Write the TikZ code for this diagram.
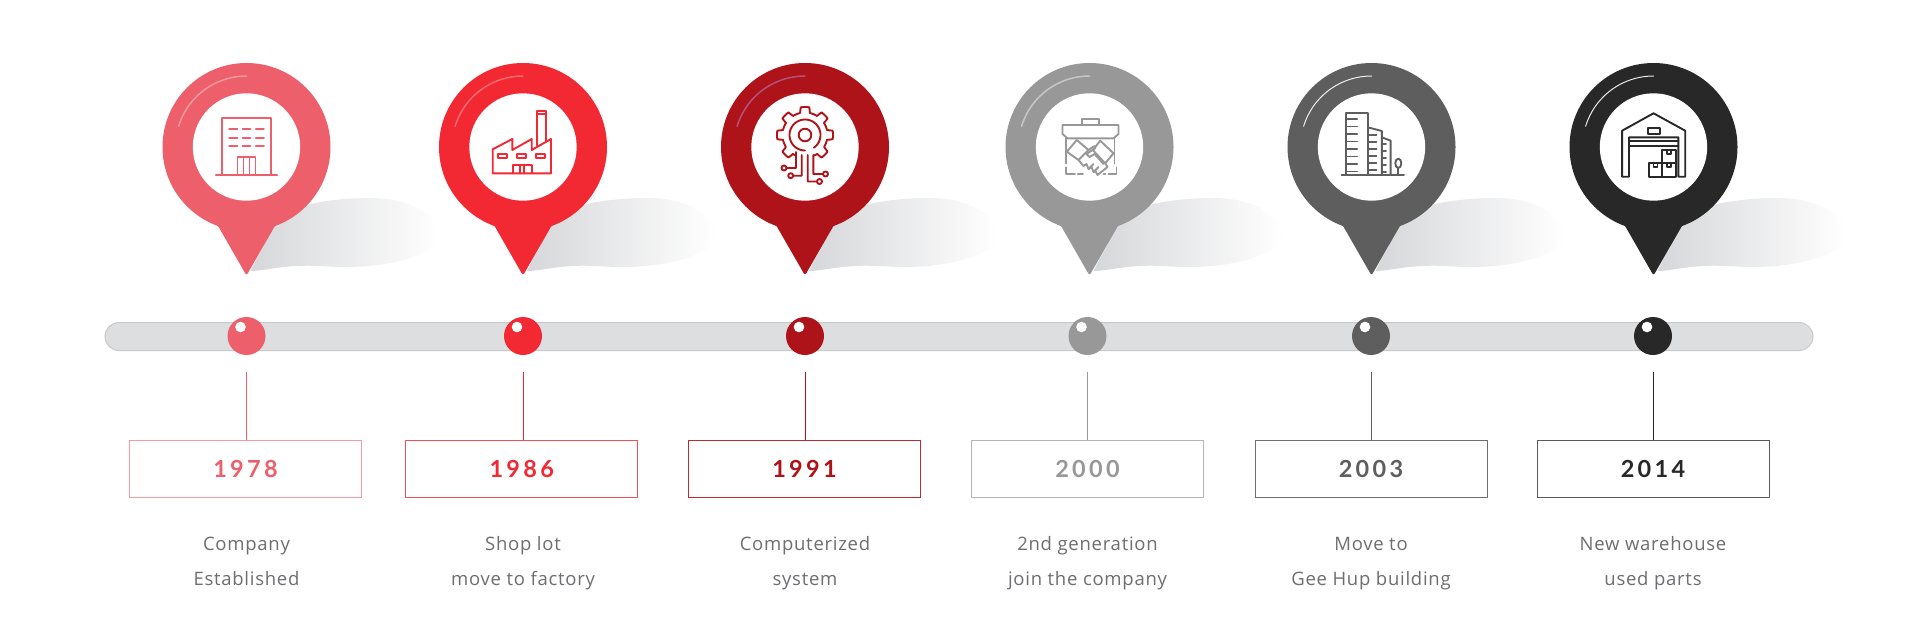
\documentclass[tikz,border=0pt]{standalone}
\usepackage{fontspec}
\setmainfont{Open Sans}
\newfontfamily\yearfont[LetterSpace=14]{Lato}
\newfontfamily\descfont[LetterSpace=4]{Open Sans}
\usetikzlibrary{calc}
\definecolor{cA}{HTML}{EC5F6B}
\definecolor{cB}{HTML}{F22833}
\definecolor{cC}{HTML}{AE1319}
\definecolor{cD}{HTML}{989898}
\definecolor{cE}{HTML}{5E5E5E}
\definecolor{cF}{HTML}{282828}
\definecolor{bA}{HTML}{F49BA3}
\definecolor{bB}{HTML}{F0505A}
\definecolor{bC}{HTML}{BE2A32}
\definecolor{bD}{HTML}{B4B4B4}
\definecolor{bE}{HTML}{6E6E6E}
\definecolor{bF}{HTML}{5A5A5A}
\definecolor{hlC}{HTML}{B4517A}
\definecolor{barfill}{HTML}{DDDEE0}
\definecolor{barline}{HTML}{C8C9CB}
\definecolor{desc}{HTML}{6D6E71}
\definecolor{shadowgray}{HTML}{D6D7DA}
\tikzset{
  x=1pt,y=-1pt,
  iconline/.style={line width=1.9pt,line cap=round,line join=round},
  barbox/.style={draw=barline,fill=barfill,line width=1pt,rounded corners=14pt,minimum width=1708pt,minimum height=28pt,inner sep=0pt},
  ball/.style={circle,inner sep=0pt,minimum size=38pt},
  yearbox/.style={rectangle,fill=white,line width=1pt,minimum width=232pt,minimum height=57pt,inner sep=0pt,font=\yearfont\bfseries\fontsize{23.5}{26}\selectfont},
  desctext/.style={align=center,text=desc,font=\descfont\fontsize{18.5}{34.6}\selectfont,inner sep=0pt},
}
\newcommand\pinshape[6]{%
  \begin{scope}[shift={(#1,147)}]
    \shade[left color=shadowgray,right color=white,shading angle=90]
      (4,124) -- (10,112) -- (17,100) -- (20,90) -- (22,80) -- (40,65)
      .. controls (60,55) and (95,51) .. (125,51)
      .. controls (165,51) and (193,70) .. (193,88)
      .. controls (193,105) and (150,120) .. (100,120)
      .. controls (80,120) and (70,118) .. (50,119)
      .. controls (30,120) and (15,124) .. (4,124) -- cycle;
    \fill[#2] (0,0) circle[radius=84];
    \fill[#2,rounded corners=2.5pt] (-31,76) -- (-29,78) -- (0,128.5) -- (29,78) -- (31,76) -- cycle;
    \fill[white] (0,0) circle[radius=53.7];
    \draw[draw=#3,draw opacity=#4,line width=#5pt,line cap=round]
      plot[smooth,samples=25,domain=197:270] ({71*cos(\x)},{71*sin(\x)});
    \begin{scope}[draw=#2,iconline]
      #6
    \end{scope}
  \end{scope}%
}
\newcommand\iconA{%
  \draw (-24.3,28) -- (-24.3,-29) -- (24.7,-29) -- (24.7,28);
  \draw (-30.7,28) -- (30.7,28);
  \foreach \r in {-17.7,-9.3,-1}{
    \draw (-17.3,\r) -- (-9,\r) (-4,\r) -- (4,\r) (9.3,\r) -- (17.3,\r);}
  \draw (-9,28) -- (-9,10) -- (9,10) -- (9,28) (-3,10) -- (-3,28) (3,10) -- (3,28);
}
\newcommand\iconB{%
  \draw (-30.3,26.3) -- (-30.3,2.3) -- (-10.7,-8) -- (-10.7,3) -- (8.7,-8) -- (8.7,3) -- (28,-8) -- (28,26.3) -- cycle;
  \draw (14.3,-1.5) -- (14.3,-36) -- (22.7,-36) -- (22.7,-5) (14.3,-33) -- (22.7,-33);
  \draw (-25.3,7) rectangle (-16.3,11.3) (-6.3,7) rectangle (2.7,11.3) (13,7) rectangle (22,11.3);
  \draw (-10.3,26.3) -- (-10.3,18.3) -- (8.7,18.3) -- (8.7,26.3) (-3,18.3) -- (-3,26.3) (1,18.3) -- (1,26.3);
}
\newcommand\iconC{%
  \begin{scope}[shift={(0,-12)}]
    \draw plot[samples=160,domain=115:425] ({(22.5+5.5*min(1,max(0,2.2*cos(8*\x)+0.3)))*cos(\x)},{(22.5+5.5*min(1,max(0,2.2*cos(8*\x)+0.3)))*sin(\x)});
    \draw (0,0) circle[radius=6.3];
    \draw plot[samples=50,domain=90:415] ({15.5*cos(\x)},{15.5*sin(\x)});
  \end{scope}
  \draw (-9,5) -- (-9,21) -- (-18.3,21) (-21,21) circle[radius=2.5];
  \draw (-3.3,8) -- (-3.3,28.7) -- (-12,28.7) (-14.3,28.7) circle[radius=2.5];
  \draw (2.7,8) -- (2.7,34.5) -- (12,34.5) (14.5,34.5) circle[radius=2.5];
  \draw (8.3,8) -- (8.3,27) -- (18,27) (20.5,27) circle[radius=2.5];
}
\newcommand\iconD{%
  \draw (-7.7,-22) -- (-7.7,-27.7) -- (9.7,-27.7) -- (9.7,-22);
  \draw (-27,-22) -- (29,-22) -- (29,-13) -- (24,-8.7) -- (-22,-8.7) -- (-27,-13) -- cycle;
  \draw (-23.7,-8.7) -- (-23.7,16.3) (25,-8.7) -- (25,16.3);
  \draw (-23.7,20.3) -- (-23.7,27) -- (-14.7,27) (-11.7,27) -- (-6.7,27) (14,27) -- (15.7,27) (19,27) -- (27,27) -- (27,20.3);
  \filldraw[fill=white] (-22.7,4.7) -- (-12.7,-7) -- (-1,3) -- (-11,13) -- cycle;
  \filldraw[fill=white] (10.7,-6.3) -- (24,6.3) -- (15.7,16.3) -- (3.3,3) -- cycle;
  \draw (-1,3) -- (3.3,0) -- (6,-1);
  \draw (6,1) -- (-3,7) -- (0,10) -- (5,7) -- (14,17);
  \draw (-11,13) -- (-6,19) -- (-3,17) -- (-1,22) -- (2,20) -- (4,25) -- (6,24) -- (8,28) -- (18,20) -- (15.7,16.3);
  \draw (4,25) -- (9,20) (-1,22) -- (4,17);
}
\newcommand\iconE{%
  \draw (-29.9,28) -- (32.5,28);
  \draw (-25.6,28) -- (-25.6,-33.7) -- (-3.8,-33.7) -- (-3.8,28);
  \draw (-3.8,-19.7) -- (10.3,-16) -- (10.3,28);
  \draw (10.3,-9.7) -- (19.1,-6.3) -- (19.1,28);
  \foreach \r in {-28,-20.5,...,24.5}{\draw (-25.6,\r) -- (-14.3,\r);}
  \foreach \r in {-12,-5,...,24}{\draw (-3.8,\r) -- (5,\r);}
  \foreach \r in {-3,4,...,25}{\draw (10.3,\r) -- (14.5,\r);}
  \draw (26.8,16.3) ellipse[x radius=3,y radius=4.7];
  \draw (26.8,21) -- (26.8,28);
}
\newcommand\iconF{%
  \draw (-31.4,29.7) -- (-31.4,-16.3) -- (0,-33.7) -- (31.7,-16.3) -- (31.7,29.7) -- (24.9,29.7) -- (24.9,-9.7) -- (-24.5,-9.7) -- (-24.5,29.7) -- cycle;
  \draw (-5.7,-18.7) rectangle (6.1,-13.3);
  \draw (-24.5,-6) -- (24.9,-6) (-24.5,-1) -- (24.9,-1);
  \draw (8.8,3) rectangle (22.2,15.7) (-4.6,15.7) rectangle (8.8,29.7) (8.8,15.7) rectangle (22.2,29.7);
  \draw (13.5,3) -- (13.5,7) -- (17.5,7) -- (17.5,3);
  \draw (0,15.7) -- (0,19.7) -- (4,19.7) -- (4,15.7);
  \draw (13.5,15.7) -- (13.5,19.7) -- (17.5,19.7) -- (17.5,15.7);
}
\newcommand\stagebelow[8]{%
  % id, x, box centre, colour, box colour, year, line1, line2
  \node[ball,fill=#4] (dot#1) at (#2,336) {};
  \fill[white] ($(dot#1.center)+(-6,-9)$) circle[radius=5.3];
  \coordinate (stem#1) at (#2,372);
  \node[yearbox,draw=#5,text=#4] (box#1) at (#3,469) {#6};
  \draw[#4,line width=1pt] (stem#1) -- (box#1.north -| stem#1);
  \node[desctext,anchor=base] (desc#1) at (#2,585.5) {#7\\#8};
}
\begin{document}
\begin{tikzpicture}
\useasboundingbox (0,0) rectangle (1919,637);
\fill[white] (0,0) rectangle (1919,637);
\pinshape{246.5}{cA}{white}{0.35}{1.5}{\iconA}
\pinshape{523}{cB}{white}{0.3}{1.5}{\iconB}
\pinshape{805}{cC}{hlC}{1}{1.5}{\iconC}
\pinshape{1089.5}{cD}{white}{0.45}{1.5}{\iconD}
\pinshape{1371.5}{cE}{white}{0.9}{1}{\iconE}
\pinshape{1653.5}{cF}{white}{0.9}{1}{\iconF}
\node[barbox] (bar) at (959,336.5) {};
\stagebelow{1}{246.5}{245.5}{cA}{bA}{1978}{Company}{Established}
\stagebelow{2}{523}{521.7}{cB}{bB}{1986}{Shop lot}{move to factory}
\stagebelow{3}{805}{804.5}{cC}{bC}{1991}{Computerized}{system}
\stagebelow{4}{1087.5}{1087.5}{cD}{bD}{2000}{2nd generation}{join the company}
\stagebelow{5}{1371}{1371}{cE}{bE}{2003}{Move to}{Gee Hup building}
\stagebelow{6}{1653}{1653}{cF}{bF}{2014}{New warehouse}{used parts}
\end{tikzpicture}
\end{document}
